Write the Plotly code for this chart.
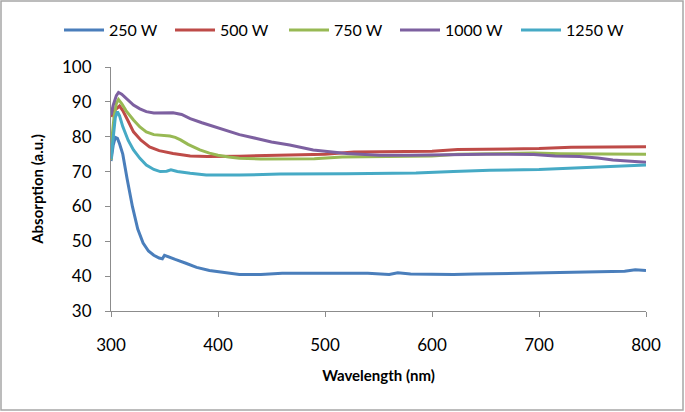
import plotly.graph_objects as go

# ---- data ----
series_names = ["250 W", "500 W", "750 W", "1000 W", "1250 W"]
series_colors = ["#4A7EBB", "#BE4B48", "#98B954", "#7D60A0", "#46AAC5"]

wl_250 = [300, 302, 304, 306, 308, 311, 315, 320, 325, 330, 335, 340, 345, 348, 350, 353, 360, 370, 380,
          392, 405, 420, 440, 460, 480, 500, 520, 540, 560, 568, 580, 600, 620, 640, 660, 680, 700, 720,
          740, 760, 780, 790, 800]
ab_250 = [73.0, 77.5, 79.8, 79.5, 78.0, 75.0, 68.0, 60.0, 53.5, 49.5, 47.2, 46.0, 45.2, 45.0, 46.0, 45.6,
          44.8, 43.7, 42.5, 41.6, 41.0, 40.5, 40.5, 40.8, 40.8, 40.8, 40.9, 40.8, 40.5, 41.0, 40.6, 40.5,
          40.5, 40.6, 40.7, 40.8, 40.9, 41.0, 41.0, 41.2, 41.4, 41.8, 41.6]

wl_500 = [300, 303, 308, 311, 316, 321, 328, 336, 345, 358, 374, 390, 420, 458, 500, 527, 560, 600, 624,
          660, 700, 730, 760, 800]
ab_500 = [85.7, 87.5, 88.8, 87.5, 84.5, 81.4, 79.0, 77.1, 76.0, 75.2, 74.5, 74.3, 74.4, 74.6, 75.0, 75.6,
          75.7, 75.8, 76.3, 76.5, 76.6, 77.0, 77.1, 77.1]

wl_750 = [300, 301, 303, 305, 307, 310, 314, 318, 321, 327, 333, 340, 348, 355, 360, 365, 372, 383, 392,
          400, 410, 420, 440, 458, 490, 516, 560, 600, 624, 660, 695, 720, 760, 800]
ab_750 = [73.3, 80.0, 86.0, 89.5, 90.7, 89.5, 87.5, 85.8, 84.8, 82.8, 81.4, 80.6, 80.4, 80.2, 79.8, 79.1,
          77.8, 76.2, 75.3, 74.7, 74.2, 73.8, 73.6, 73.6, 73.7, 74.2, 74.3, 74.5, 75.0, 75.2, 75.3, 75.1,
          75.0, 75.0]

wl_1000 = [300, 302, 305, 307, 310, 316, 321, 327, 333, 340, 350, 358, 366, 374, 385, 395, 405, 420, 436,
           450, 467, 489, 520, 551, 580, 613, 650, 695, 715, 738, 755, 769, 785, 800]
ab_1000 = [86.2, 89.0, 91.8, 92.7, 92.2, 90.5, 89.1, 88.0, 87.2, 86.8, 86.8, 86.9, 86.4, 85.2, 84.0, 83.0,
           81.9, 80.6, 79.5, 78.5, 77.6, 76.2, 75.2, 74.7, 74.7, 74.9, 75.0, 74.9, 74.5, 74.3, 73.9, 73.3,
           72.9, 72.7]

wl_1250 = [300, 302, 304, 306, 308, 311, 316, 321, 327, 333, 340, 346, 352, 356, 362, 374, 389, 420, 458,
           520, 585, 620, 654, 700, 730, 770, 800]
ab_1250 = [73.5, 80.0, 85.5, 87.2, 86.0, 82.9, 79.0, 76.2, 73.8, 71.9, 70.6, 70.0, 70.1, 70.5, 70.0, 69.5,
           69.0, 69.0, 69.3, 69.4, 69.6, 70.0, 70.4, 70.6, 71.0, 71.4, 71.9]

x_ticks = [300, 400, 500, 600, 700, 800]
y_ticks = [30, 40, 50, 60, 70, 80, 90, 100]

all_x = [wl_250, wl_500, wl_750, wl_1000, wl_1250]
all_y = [ab_250, ab_500, ab_750, ab_1000, ab_1250]

FONT = "Lato"
W, H = 685, 412
L, R, T, B = 111, 39, 67, 101
pw, ph = W - L - R, H - T - B

# left pixel where each legend entry's line starts
legend_px = [66, 177, 291, 402, 523]

fig = go.Figure()
legend_ids = ["legend", "legend2", "legend3", "legend4", "legend5"]
for name, color, xs, ys, lid in zip(series_names, series_colors, all_x, all_y, legend_ids):
    fig.add_trace(go.Scatter(x=xs, y=ys, mode="lines", name=name, legend=lid,
                             line=dict(color=color, width=3)))

axis_common = dict(showgrid=False, zeroline=False, showline=True, linecolor="#8C8C8C", linewidth=1,
                   ticks="outside", ticklen=5, tickcolor="#8C8C8C", automargin=False,
                   tickfont=dict(family=FONT, size=17, color="#000000"))

fig.update_layout(
    width=W, height=H,
    margin=dict(l=L, r=R, t=T, b=B, autoexpand=False),
    paper_bgcolor="white", plot_bgcolor="white",
    font=dict(family=FONT, color="#000000"),
    xaxis=dict(range=[300, 800], tickvals=x_ticks, ticklabelstandoff=14,
               title=dict(text="<b>Wavelength (nm)</b>", font=dict(family=FONT, size=15), standoff=16),
               **axis_common),
    yaxis=dict(range=[30, 100], tickvals=y_ticks, ticklabelstandoff=10,
               title=dict(text="<b>Absorption (a.u.)</b>", font=dict(family=FONT, size=15), standoff=14),
               **axis_common),
    showlegend=True,
)
for lid, px in zip(legend_ids, legend_px):
    fig.update_layout({lid: dict(orientation="h", xref="container", yref="container",
                                 x=(px - 7) / W, xanchor="left", y=1 - 30 / H, yanchor="middle",
                                 font=dict(family=FONT, size=16), itemwidth=40,
                                 bgcolor="rgba(0,0,0,0)")})

# outer border of the chart area
fig.add_shape(type="rect", xref="paper", yref="paper",
              x0=(1 - L) / pw, x1=(W - 2 - L) / pw,
              y0=(H - B - (H - 2)) / ph, y1=(H - B - 1) / ph,
              line=dict(color="#A6A6A6", width=1.5), fillcolor="rgba(0,0,0,0)", layer="below")

fig.write_html("out.html", config={"displayModeBar": False},
               post_script="document.body.style.margin='0';document.body.style.overflow='hidden';")
